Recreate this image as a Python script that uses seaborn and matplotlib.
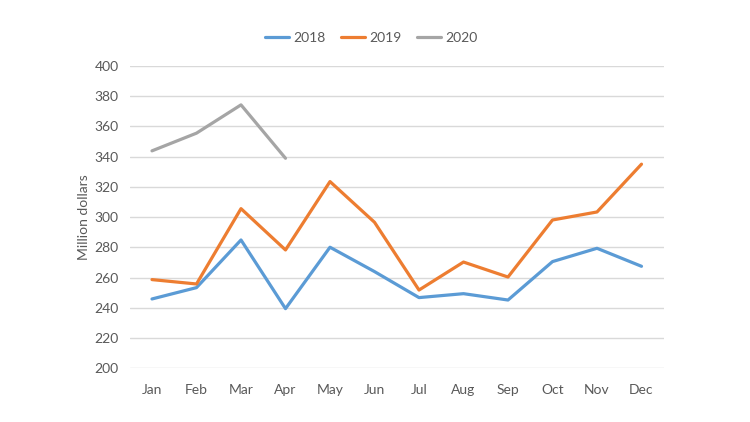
import matplotlib.pyplot as plt
import seaborn as sns
import numpy as np
import pandas as pd

# Data
months = ['Jan', 'Feb', 'Mar', 'Apr', 'May', 'Jun', 'Jul', 'Aug', 'Sep', 'Oct', 'Nov', 'Dec']
v2018 = [245.9, 253.4, 284.9, 239.5, 280.1, 264.0, 246.8, 249.4, 245.2, 270.6, 279.4, 267.5]
v2019 = [258.7, 255.8, 305.6, 278.3, 323.5, 296.6, 251.8, 270.3, 260.4, 298.1, 303.4, 335.0]
v2020 = [343.8, 355.5, 374.2, 338.9]
years = ['2018', '2019', '2020']
colors = ['#5B9BD5', '#ED7D31', '#A5A5A5']

rows = []
for yr, vals in zip(years, [v2018, v2019, v2020]):
    for i, v in enumerate(vals):
        rows.append({'month': i, 'value': v, 'year': yr})
df = pd.DataFrame(rows)

sns.set_style('white')
plt.rcParams['font.family'] = ['Lato', 'DejaVu Sans']

fig = plt.figure(figsize=(7.5, 4.22), dpi=100)
ax = fig.add_axes([0.173, 0.127, 0.712, 0.717])
sns.lineplot(data=df, x='month', y='value', hue='year', palette=colors,
             linewidth=2.3, ax=ax, legend=True)

ax.set_xlim(-0.5, 11.5)
ax.set_ylim(200, 400)
ax.set_yticks(np.arange(200, 401, 20))
ax.set_xticks(range(12))
ax.set_xticklabels(months)
ax.grid(axis='y', color='#D9D9D9', linewidth=1)
ax.set_axisbelow(True)
for s in ax.spines.values():
    s.set_visible(False)
ax.tick_params(axis='both', length=0, labelsize=10, colors='#595959')
ax.tick_params(axis='x', pad=11)
ax.tick_params(axis='y', pad=8)
ax.set_xlabel('')
ax.set_ylabel('Million dollars', fontsize=10, color='#595959', labelpad=3)

# legend centred on the whole figure, like Excel does
handles, labels = ax.get_legend_handles_labels()
ax.get_legend().remove()
leg = fig.legend(handles, labels, loc='center', bbox_to_anchor=(0.495, 0.91), ncol=3,
                 frameon=False, fontsize=10, handlelength=1.75, columnspacing=1.1,
                 handletextpad=0.3)
for t in leg.get_texts():
    t.set_color('#595959')

fig.savefig('out.png', dpi=100)
